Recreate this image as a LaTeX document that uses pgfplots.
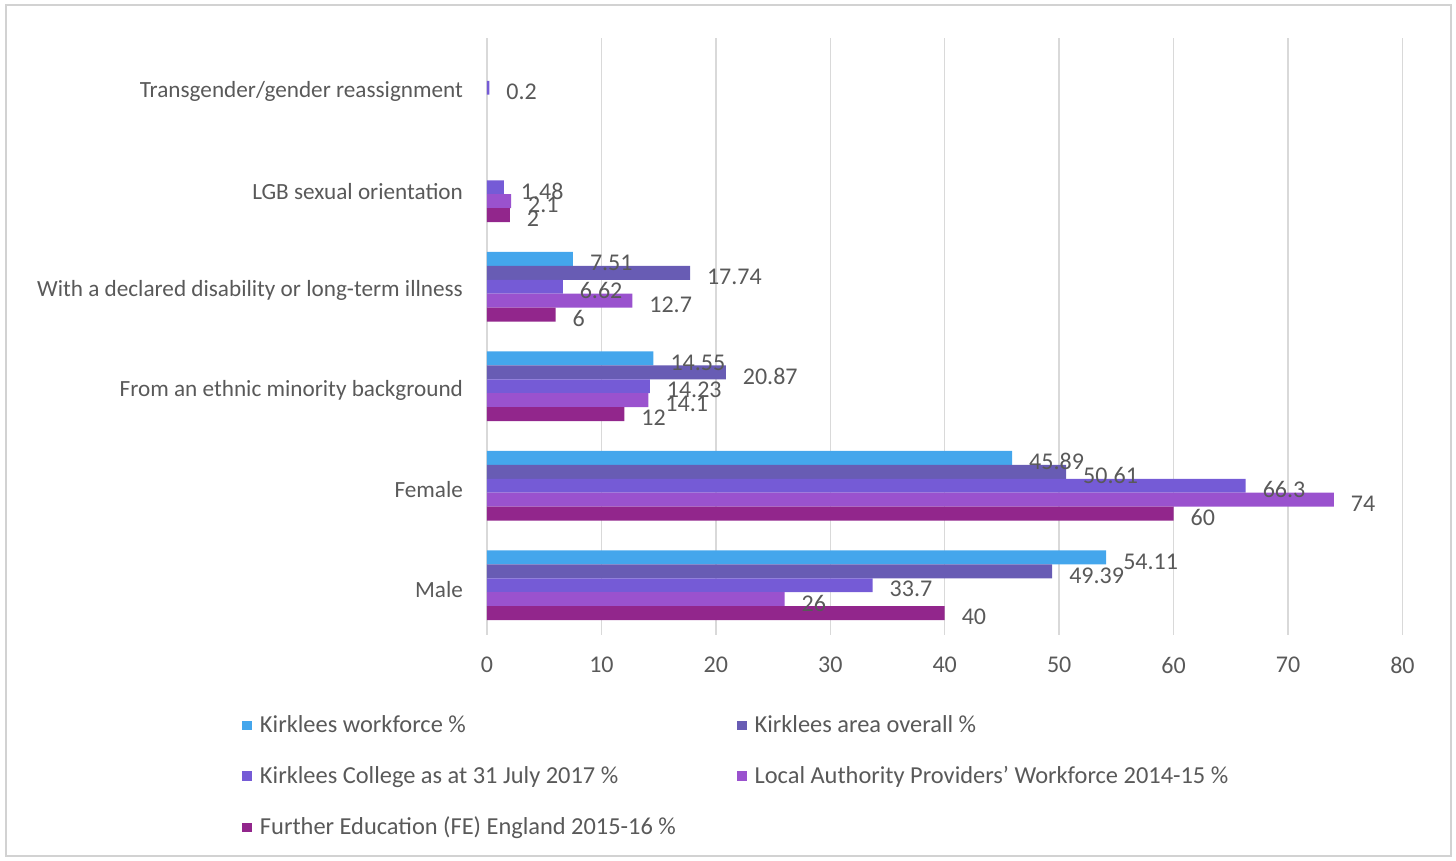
\documentclass[border=0pt]{standalone}
\usepackage{fontspec}
\setmainfont{Carlito}
\usepackage{pgfplots}
\pgfplotsset{compat=1.18}
\definecolor{cA}{RGB}{68,166,236}
\definecolor{cB}{RGB}{104,92,180}
\definecolor{cC}{RGB}{117,91,214}
\definecolor{cD}{RGB}{154,82,206}
\definecolor{cE}{RGB}{146,38,140}
\definecolor{txt}{RGB}{89,89,89}
\definecolor{gridc}{RGB}{217,217,217}
\definecolor{framec}{RGB}{210,210,210}
\begin{document}
\begin{tikzpicture}[font=\fontsize{12}{14}\selectfont]
\begin{axis}[
  name=ax,
  scale only axis, width=457.75pt, height=298.5pt,
  xbar, bar width=0.14,
  xmin=0, xmax=80, ymin=-0.5, ymax=5.5,
  xtick={0,10,...,80},
  ytick={0,...,5},
  yticklabels={Male,Female,From an ethnic minority background,With a declared disability or long-term illness,LGB sexual orientation,Transgender/gender reassignment},
  axis line style={draw=none},
  major tick length=0pt,
  xmajorgrids, grid style={gridc, line width=0.75pt},
  tick label style={text=txt},
  /pgf/number format/assume math mode=true,
  yticklabel style={xshift=-8.5pt, yshift=-2pt, font=\fontsize{11.6}{14}\selectfont},
  xticklabel style={yshift=-7.5pt, font=\fontsize{12}{14}\selectfont},
  nodes near coords,
  nodes near coords style={text=txt, anchor=west, xshift=5pt, yshift=-2pt, font=\fontsize{12}{14}\selectfont},
  legend image code/.code={\fill[#1] (0pt,-2.4pt) rectangle (4.8pt,2.4pt);},
  legend style={at={(axis description cs:0,0)}, anchor=north west, xshift=-122.5pt, yshift=-38pt,
    draw=none, fill=none, inner sep=0pt, row sep=11.4pt, text=txt, legend columns=2,
    font=\fontsize{12.2}{14}\selectfont,
    /tikz/every odd column/.append style={column sep=0pt}},
  legend cell align=left,
]
\addplot[draw=none, fill=cA, bar shift=0.28] coordinates {(54.11,0) (45.89,1) (14.55,2) (7.51,3)};
\addlegendentry{\hspace{2pt}\makebox[236.5pt][l]{Kirklees workforce \%}}
\addplot[draw=none, fill=cB, bar shift=0.14] coordinates {(49.39,0) (50.61,1) (20.87,2) (17.74,3)};
\addlegendentry{\hspace{2pt}Kirklees area overall \%}
\addplot[draw=none, fill=cC, bar shift=0] coordinates {(33.7,0) (66.3,1) (14.23,2) (6.62,3) (1.48,4) (0.2,5)};
\addlegendentry{\hspace{2pt}\makebox[236.5pt][l]{Kirklees College as at 31 July 2017 \%}}
\addplot[draw=none, fill=cD, bar shift=-0.14] coordinates {(26,0) (74,1) (14.1,2) (12.7,3) (2.1,4)};
\addlegendentry{\hspace{2pt}Local Authority Providers' Workforce 2014-15 \%}
\addplot[draw=none, fill=cE, bar shift=-0.28] coordinates {(40,0) (60,1) (12,2) (6,3) (2,4)};
\addlegendentry{\hspace{2pt}\makebox[236.5pt][l]{Further Education (FE) England 2015-16 \%}}
\end{axis}
\draw[framec, line width=0.8pt] ([shift={(-240.5pt,-110.5pt)}]ax.south west) rectangle ([shift={(482pt,315pt)}]ax.south west);
\pgfresetboundingbox
\path[use as bounding box] ([shift={(-243.5pt,-113pt)}]ax.south west) rectangle ([shift={(484.5pt,317.5pt)}]ax.south west);
\end{tikzpicture}
\end{document}
